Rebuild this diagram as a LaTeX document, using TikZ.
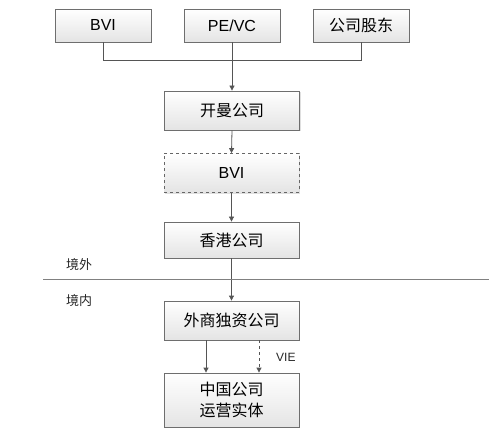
\documentclass[tikz,border=0pt]{standalone}
\usepackage{fontspec}
\setmainfont{Liberation Sans}
\newfontfamily\cjk{Noto Sans CJK SC}
\usetikzlibrary{arrows.meta,shadows}
\definecolor{edgegray}{HTML}{6E6E6E}
\definecolor{linegray}{HTML}{555555}
\definecolor{fillbot}{HTML}{E4E4E4}
\tikzset{
  box/.style={draw=edgegray, line width=0.8pt, top color=white, bottom color=fillbot,
     minimum width=135pt, minimum height=39pt, inner sep=0pt, font=\fontsize{16}{21}\selectfont,
     drop shadow={shadow xshift=1.2pt, shadow yshift=-1.2pt, fill=black!25, opacity=0.5}, align=center},
  topbox/.style={box, minimum width=96pt, minimum height=33pt},
  conn/.style={draw=linegray, line width=0.8pt},
  arr/.style={conn, -{Triangle[length=5pt,width=5pt]}},
  lbl/.style={font=\fontsize{13}{15}\selectfont, text=black!85, inner sep=0pt},
}
\begin{document}
\begin{tikzpicture}[x=1pt,y=-1pt]
\useasboundingbox (0,0) rectangle (489,435);
\node[topbox] (bvi1) at (103,25.5) {BVI};
\node[topbox] (pevc) at (232,25.5) {PE/VC};
\node[topbox] (gdgd) at (361,25.5) {\cjk 公司股东};
\node[box] (km) at (232,110.5) {\cjk 开曼公司};
\node[box, dashed, draw=black!60] (bvi2) at (231.5,173) {BVI};
\node[box, minimum height=36pt] (hk) at (231.5,240) {\cjk 香港公司};
\node[box] (wfoe) at (231.5,320.5) {\cjk 外商独资公司};
\node[box, minimum height=54pt] (cn) at (231.5,400) {\cjk 中国公司\\\cjk 运营实体};
\coordinate (jl) at (103,60);
\coordinate (jr) at (361,60);
\draw[conn] (bvi1.south) -- (jl) -- (jr) -- (gdgd.south);
\draw[arr] (pevc.south) -- (km.north);
\draw[arr] (km.south) -- (bvi2.north);
\draw[arr] (bvi2.south) -- (hk.north);
\draw[arr] (hk.south) -- (wfoe.north);
\coordinate (bl) at (43,279);
\coordinate (br) at (489,279);
\draw[draw=black!50, line width=0.8pt] (bl) -- (br);
\node[lbl, anchor=west] (jw) at (66,265) {\cjk 境外};
\node[lbl, anchor=west] (jn) at (66,301) {\cjk 境内};
\draw[arr] ([xshift=-25.5pt]wfoe.south) -- ([xshift=-25.5pt]cn.north);
\draw[arr, dashed] ([xshift=27.5pt]wfoe.south) -- ([xshift=27.5pt]cn.north);
\node[lbl, anchor=west, font=\fontsize{12}{14}\selectfont] (vie) at (276,357) {VIE};
\end{tikzpicture}
\end{document}
